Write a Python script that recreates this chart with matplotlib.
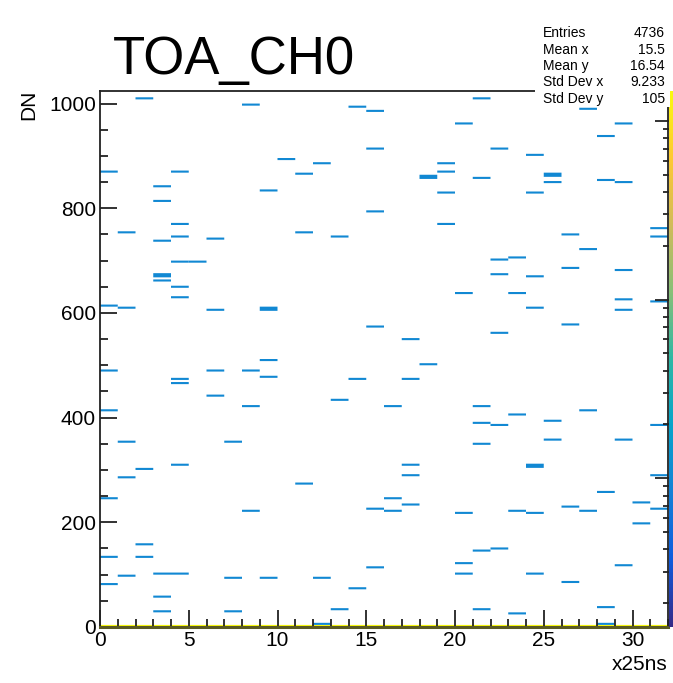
import numpy as np
import matplotlib
matplotlib.use("Agg")
import matplotlib.pyplot as plt
from matplotlib.colors import LinearSegmentedColormap, LogNorm
from matplotlib.patches import Rectangle
from matplotlib.ticker import MultipleLocator, LogLocator, NullFormatter

plt.rcParams["font.family"] = ["Liberation Sans", "DejaVu Sans"]

# ---- data: TOA bin (x25ns) and DN of each recorded hit ----
toa_bin = [
    0, 0, 0, 0, 0, 0, 0,
    1, 1, 1, 1, 1,
    2, 2, 2, 2,
    3, 3, 3, 3, 3, 3, 3, 3, 3,
    4, 4, 4, 4, 4, 4, 4, 4, 4, 4,
    5,
    6, 6, 6, 6,
    7, 7, 7,
    8, 8, 8, 8,
    9, 9, 9, 9, 9, 9,
    10,
    11, 11, 11,
    12, 12, 12,
    13, 13, 13,
    14, 14, 14,
    15, 15, 15, 15, 15, 15,
    16, 16, 16,
    17, 17, 17, 17, 17,
    18, 18, 18,
    19, 19, 19, 19,
    20, 20, 20, 20, 20,
    21, 21, 21, 21, 21, 21, 21,
    22, 22, 22, 22, 22, 22,
    23, 23, 23, 23, 23,
    24, 24, 24, 24, 24, 24, 24, 24,
    25, 25, 25, 25, 25,
    26, 26, 26, 26, 26,
    27, 27, 27, 27,
    28, 28, 28, 28, 28,
    29, 29, 29, 29, 29, 29, 29,
    30, 30,
    31, 31, 31, 31, 31, 31,
]
hit_dn = [
    871, 614, 491, 414, 246, 133, 83,
    752, 609, 355, 287, 97,
    1009, 301, 159, 135,
    841, 814, 737, 674, 670, 661, 100, 59, 28,
    870, 770, 744, 698, 649, 628, 474, 467, 309, 100,
    696,
    741, 605, 490, 442,
    354, 92, 28,
    998, 488, 423, 220,
    835, 608, 604, 508, 478, 93,
    893,
    865, 753, 274,
    884, 95, 7,
    747, 434, 32,
    992, 472, 74,
    986, 913, 795, 572, 225, 113,
    423, 246, 222,
    550, 475, 309, 289, 234,
    862, 857, 502,
    884, 868, 828, 771,
    962, 639, 218, 123, 100,
    1008, 856, 423, 391, 350, 147, 34,
    914, 702, 672, 561, 385, 150,
    705, 636, 405, 220, 25,
    902, 828, 670, 608, 308, 304, 219, 103,
    864, 860, 849, 392, 359,
    750, 685, 577, 229, 87,
    988, 723, 413, 222,
    939, 854, 257, 36, 5,
    963, 851, 681, 625, 604, 357, 118,
    238, 197,
    763, 747, 623, 385, 289, 224,
]
# pedestal counts in the lowest DN bin, one per TOA bin 0..31
pedestal_counts = [
    143, 145, 142, 144, 141, 146, 143, 142, 145, 144, 140, 147, 143, 142, 144, 141,
    145, 143, 142, 146, 144, 141, 143, 145, 142, 144, 143, 141, 146, 142, 144, 143,
]

stat_names = ["Entries", "Mean x", "Mean y", "Std Dev x", "Std Dev y"]
stat_values = ["4736", "15.5", "16.54", "9.233", "105"]

n_toa_bins = 32
dn_max = 1024
dn_bin_width = 4

# ---- ROOT kBird palette ----
bird_stops = [0.0, 0.125, 0.25, 0.375, 0.5, 0.625, 0.75, 0.875, 1.0]
bird_r = [0.2082, 0.0592, 0.0780, 0.0232, 0.1802, 0.5301, 0.8186, 0.9956, 0.9764]
bird_g = [0.1664, 0.3599, 0.5041, 0.6419, 0.7178, 0.7492, 0.7328, 0.7862, 0.9832]
bird_b = [0.5293, 0.8684, 0.8385, 0.7914, 0.6425, 0.4662, 0.3499, 0.1968, 0.0539]
kbird = LinearSegmentedColormap.from_list(
    "kBird", list(zip(bird_stops, zip(bird_r, bird_g, bird_b))), N=255)

# ---- 2D histogram ----
x_all = np.concatenate([np.array(toa_bin) + 0.5, np.arange(n_toa_bins) + 0.5])
y_all = np.concatenate([np.array(hit_dn, dtype=float) + 0.5,
                        np.full(n_toa_bins, 0.5)])
w_all = np.concatenate([np.ones(len(hit_dn)), np.array(pedestal_counts, float)])
xedges = np.arange(0, n_toa_bins + 1, 1)
yedges = np.arange(0, dn_max + dn_bin_width, dn_bin_width)
H, _, _ = np.histogram2d(x_all, y_all, bins=[xedges, yedges], weights=w_all)
zmax = H.max()
norm = LogNorm(vmin=zmax * 1e-3, vmax=zmax)

# merge vertically adjacent cells with equal content into one box
cell_x, cell_y0, cell_h, cell_z = [], [], [], []
for i in range(H.shape[0]):
    j = 0
    while j < H.shape[1]:
        z = H[i, j]
        if z > 0:
            k = j
            while k + 1 < H.shape[1] and H[i, k + 1] == z:
                k += 1
            cell_x.append(xedges[i])
            cell_y0.append(yedges[j])
            cell_h.append(yedges[k + 1] - yedges[j])
            cell_z.append(z)
            j = k + 1
        else:
            j += 1

W, Hpx = 673, 683
fig = plt.figure(figsize=(W / 100, Hpx / 100), dpi=100)
fig.patch.set_facecolor("white")

L, R, T, B = 100, 668, 91, 627
ax = fig.add_axes([L / W, 1 - B / Hpx, (R - L) / W, (B - T) / Hpx])

# filled cells drawn as boxes (COLZ style)
bars = ax.bar(cell_x, cell_h, width=1.0, bottom=cell_y0, align="edge",
              color=kbird(norm(np.array(cell_z))), linewidth=0, antialiased=True)
for p in bars:
    p.set_snap(False)
ax.set_xlim(0, n_toa_bins)
ax.set_ylim(0, dn_max)

ax.xaxis.set_major_locator(MultipleLocator(5))
ax.xaxis.set_minor_locator(MultipleLocator(1))
ax.yaxis.set_major_locator(MultipleLocator(200))
ax.yaxis.set_minor_locator(MultipleLocator(50))
ax.tick_params(which="both", direction="in", color="#222222", width=1.3,
               top=False, right=False, labelsize=15)
ax.tick_params(which="major", length=12)
ax.tick_params(which="minor", length=6)
ax.tick_params(axis="x", pad=3)
ax.tick_params(axis="y", pad=3)
for s in ("left", "top", "right"):
    ax.spines[s].set_color("#222222")
    ax.spines[s].set_linewidth(1.3)
ax.spines["bottom"].set_color("#5a5a24")
ax.spines["bottom"].set_linewidth(2.2)

# ---- palette (z axis, log scale) ----
cax = fig.add_axes([668.5 / W, 1 - B / Hpx, 12 / W, (B - T) / Hpx])
zz = np.logspace(np.log10(norm.vmin), np.log10(norm.vmax), 400)
cax.pcolormesh([0, 1], zz, zz[:-1, None], cmap=kbird, norm=norm, shading="flat")
cax.set_yscale("log")
cax.set_ylim(norm.vmin, norm.vmax)
cax.set_xlim(0, 1)
cax.set_xticks([])
cax.yaxis.set_major_locator(LogLocator(base=10))
cax.yaxis.set_minor_locator(LogLocator(base=10, subs=np.arange(2, 10)))
cax.yaxis.set_major_formatter(NullFormatter())
cax.yaxis.set_minor_formatter(NullFormatter())
cax.tick_params(which="both", direction="out", left=True, right=False,
                color="#222222", width=1.3)
cax.tick_params(which="major", length=10)
cax.tick_params(which="minor", length=4.5)
for s in cax.spines.values():
    s.set_visible(False)

# ---- texts ----
fig.text(113 / W, 1 - 74 / Hpx, "TOA_CH0", fontsize=38, va="baseline", ha="left")
fig.text(668 / W, 1 - 664 / Hpx, "x25ns", fontsize=15, ha="right", va="center")
fig.text(29 / W, 1 - 90 / Hpx, "DN", fontsize=15, rotation=90, ha="center", va="top")

# ---- statistics box ----
box = Rectangle((535 / W, 1 - 107 / Hpx), (670 - 535) / W, (107 - 21) / Hpx,
                transform=fig.transFigure, facecolor="white", edgecolor="none",
                zorder=5)
fig.add_artist(box)
row_y = [33, 50, 66, 82, 99]
for name, val, yy in zip(stat_names, stat_values, row_y):
    fig.text(543 / W, 1 - yy / Hpx, name, fontsize=10, ha="left", va="center", zorder=6)
    fig.text(665 / W, 1 - yy / Hpx, val, fontsize=10, ha="right", va="center", zorder=6)

fig.savefig("out.png", dpi=100, facecolor="white")
